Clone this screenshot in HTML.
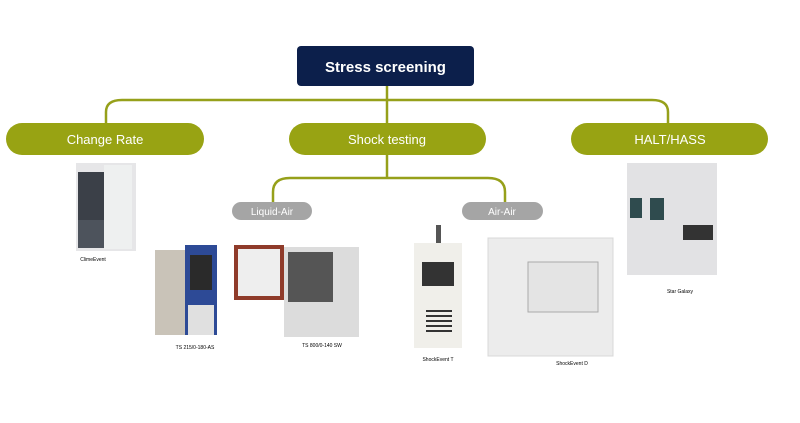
<!DOCTYPE html>
<html><head><meta charset="utf-8"><style>
body{margin:0;background:#fff;}
svg{display:block;font-family:"Liberation Sans",sans-serif;}
</style></head><body>
<svg width="800" height="423" viewBox="0 0 800 423">
<g fill="none" stroke="#96a01a" stroke-width="2.5">
<path d="M387 86V123"/>
<path d="M106 123V112Q106 100 122 100H652Q668 100 668 112V123"/>
<path d="M387 155V178"/>
<path d="M273 202V192Q273 178 290 178H488Q505 178 505 192V202"/>
</g>
<rect x="297" y="46" width="177" height="40" rx="4" fill="#0c1f4b"/>
<text x="385.5" y="72" text-anchor="middle" fill="#fff" font-size="15" font-weight="bold">Stress screening</text>
<rect x="6" y="123" width="198" height="32" rx="16" fill="#98a313"/>
<text x="105" y="144" text-anchor="middle" fill="#fff" font-size="13">Change Rate</text>
<rect x="289" y="123" width="197" height="32" rx="16" fill="#98a313"/>
<text x="387" y="144" text-anchor="middle" fill="#fff" font-size="13">Shock testing</text>
<rect x="571" y="123" width="197" height="32" rx="16" fill="#98a313"/>
<text x="670" y="144" text-anchor="middle" fill="#fff" font-size="13">HALT/HASS</text>
<rect x="232" y="202" width="80" height="18" rx="9" fill="#a5a5a5"/>
<text x="272" y="215" text-anchor="middle" fill="#fff" font-size="10">Liquid-Air</text>
<rect x="462" y="202" width="81" height="18" rx="9" fill="#a5a5a5"/>
<text x="502" y="215" text-anchor="middle" fill="#fff" font-size="10">Air-Air</text>
<!-- ClimeEvent -->
<rect x="76" y="163" width="60" height="88" fill="#e6e6e8"/>
<rect x="78" y="172" width="26" height="48" fill="#3b4048"/>
<rect x="78" y="220" width="26" height="28" fill="#4d535c"/>
<rect x="104" y="165" width="28" height="84" fill="#eef0f0"/>
<text x="93" y="261" text-anchor="middle" font-size="5">ClimeEvent</text>
<!-- TS 215 -->
<rect x="155" y="250" width="60" height="85" fill="#c9c3b8"/>
<rect x="185" y="245" width="32" height="90" fill="#2d4a96"/>
<rect x="190" y="255" width="22" height="35" fill="#2a2a2a"/>
<rect x="188" y="305" width="26" height="30" fill="#e0e0e0"/>
<text x="195" y="349" text-anchor="middle" font-size="5">TS 215/0-180-AS</text>
<!-- TS 800 -->
<rect x="234" y="245" width="50" height="55" fill="#8f3b2a"/>
<rect x="238" y="249" width="42" height="47" fill="#eee"/>
<rect x="284" y="247" width="75" height="90" fill="#dcdcdc"/>
<rect x="288" y="252" width="45" height="50" fill="#555"/>
<text x="322" y="347" text-anchor="middle" font-size="5">TS 800/0-140 SW</text>
<!-- ShockEvent T -->
<rect x="436" y="225" width="5" height="20" fill="#555"/>
<rect x="414" y="243" width="48" height="105" fill="#f0efea"/>
<rect x="422" y="262" width="32" height="24" fill="#333"/>
<g fill="#333"><rect x="426" y="310" width="26" height="2"/><rect x="426" y="315" width="26" height="2"/><rect x="426" y="320" width="26" height="2"/><rect x="426" y="325" width="26" height="2"/><rect x="426" y="330" width="26" height="2"/></g>
<text x="438" y="361" text-anchor="middle" font-size="5">ShockEvent T</text>
<!-- ShockEvent D -->
<rect x="488" y="238" width="125" height="118" fill="#ececec" stroke="#d8d8d8"/>
<rect x="528" y="262" width="70" height="50" fill="#e4e4e4" stroke="#aaa"/>
<text x="572" y="365" text-anchor="middle" font-size="5">ShockEvent D</text>
<!-- Star Galaxy -->
<rect x="627" y="163" width="90" height="112" fill="#e2e2e4"/>
<rect x="630" y="198" width="12" height="20" fill="#2f4b4e"/>
<rect x="650" y="198" width="14" height="22" fill="#2f4b4e"/>
<rect x="683" y="225" width="30" height="15" fill="#333"/>
<text x="680" y="293" text-anchor="middle" font-size="5">Star Galaxy</text>
</svg>
</body></html>
